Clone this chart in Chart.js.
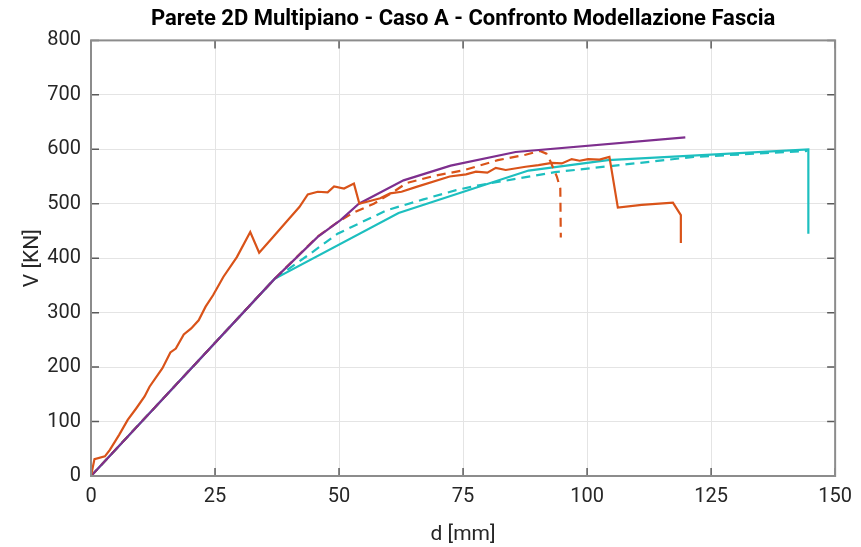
<!DOCTYPE html>
<html>
<head>
<meta charset="utf-8">
<script src="https://cdn.jsdelivr.net/npm/chart.js@4/dist/chart.umd.min.js"></script>
<style>
  html, body { margin: 0; padding: 0; background: #fff; }
  #wrap { width: 861px; height: 547px; }
</style>
</head>
<body>
<div id="wrap"><canvas id="fasciaChart"></canvas></div>
<script>
// spostamento d [mm] e taglio V [kN] per ciascuna modellazione
const dFasciaSolid = [0, 0.7, 2.8, 3.8, 5.7, 7.4, 9.1, 10.8, 11.8, 14.4, 16.0, 17.1, 18.7, 20.2, 21.7, 23.1, 24.6, 26.7, 29.4, 32.1, 33.9, 36.7, 39.7, 42.0, 43.7, 45.7, 47.7, 49.0, 51.0, 53.0, 54.1, 56.6, 58.3, 60.3, 62.6, 65.6, 72.3, 75.6, 77.6, 79.9, 81.6, 83.6, 87.6, 90.2, 92.9, 94.9, 96.9, 98.5, 100.2, 102.5, 104.5, 106.2, 111.0, 117.3, 118.9, 118.9];
const vFasciaSolid = [0, 31, 36, 48, 76, 103, 124, 146, 164, 198, 227, 234, 260, 271, 286, 311, 332, 366, 402, 448, 410, 439, 470, 494, 517, 522, 521, 532, 528, 537, 500, 506, 510, 519, 522, 531, 550, 554, 559, 557, 566, 562, 568, 571, 575, 574, 582, 579, 582, 581, 586, 493, 498, 502, 479, 428];

const dFasciaDash = [0, 37, 45.7, 50.0, 53.0, 57.0, 61.0, 63.6, 69.6, 74.9, 82.0, 87.6, 90.5, 91.8, 92.6, 93.9, 94.6, 94.7];
const vFasciaDash = [0, 362, 440, 468, 484, 500, 522, 538, 552, 561, 580, 590, 597, 592, 578, 550, 528, 438];

const dRigida = [0, 37, 45.7, 50.3, 54.0, 63.0, 72.5, 85.6, 119.8];
const vRigida = [0, 362, 439, 470, 500, 543, 570, 595, 622];

const dTelaio = [0, 37, 62.0, 88.2, 104.2, 144.6, 144.6];
const vTelaio = [0, 362, 483, 561, 580, 600, 445];

const dTelaioDash = [0, 37, 44.3, 49.7, 59.6, 67.0, 73.6, 78.2, 93.5, 121.5, 144.4];
const vTelaioDash = [0, 362, 409, 445, 488, 508, 525, 534, 558, 586, 597];

const xTicks = [0, 25, 50, 75, 100, 125, 150];
const yTicks = [0, 100, 200, 300, 400, 500, 600, 700, 800];

const FONT = 'Roboto, "Open Sans", sans-serif';

function pts(xs, ys) {
  return xs.map((x, i) => ({ x: x, y: ys[i] }));
}

function serie(xs, ys, color, dashed) {
  return {
    data: pts(xs, ys),
    showLine: true,
    borderColor: color,
    backgroundColor: color,
    borderWidth: 2.2,
    borderDash: dashed ? [9, 6] : [],
    pointRadius: 0,
    tension: 0,
    fill: false
  };
}

// cornice degli assi con tacche verso l'interno su tutti e quattro i lati
const boxPlugin = {
  id: 'boxAxes',
  afterDraw(chart) {
    const { ctx, chartArea: a, scales } = chart;
    const len = 8;
    ctx.save();
    ctx.strokeStyle = '#5a5a5a';
    ctx.lineWidth = 1.5;
    xTicks.forEach(t => {
      const px = scales.x.getPixelForValue(t);
      ctx.beginPath();
      ctx.moveTo(px, a.bottom); ctx.lineTo(px, a.bottom - len);
      ctx.moveTo(px, a.top); ctx.lineTo(px, a.top + len);
      ctx.stroke();
    });
    yTicks.forEach(t => {
      const py = scales.y.getPixelForValue(t);
      ctx.beginPath();
      ctx.moveTo(a.left, py); ctx.lineTo(a.left + len, py);
      ctx.moveTo(a.right, py); ctx.lineTo(a.right - len, py);
      ctx.stroke();
    });
    ctx.strokeStyle = '#8c8c8c';
    ctx.lineWidth = 2;
    ctx.strokeRect(a.left, a.top, a.right - a.left, a.bottom - a.top);
    ctx.restore();
  }
};

const ctxFascia = document.getElementById('fasciaChart').getContext('2d');

// il primo dataset viene disegnato sopra gli altri
new Chart(ctxFascia, {
  type: 'scatter',
  data: {
    datasets: [
      serie(dFasciaSolid, vFasciaSolid, '#D95319', false),
      serie(dRigida, vRigida, '#7E2F8E', false),
      serie(dFasciaDash, vFasciaDash, '#D95319', true),
      serie(dTelaioDash, vTelaioDash, '#1DBFBF', true),
      serie(dTelaio, vTelaio, '#1DBFBF', false)
    ]
  },
  options: {
    responsive: true,
    maintainAspectRatio: false,
    animation: false,
    layout: { padding: { top: 0, right: 18, bottom: 0, left: 0 } },
    plugins: {
      legend: { display: false },
      tooltip: { enabled: false },
      title: {
        display: true,
        text: 'Parete 2D Multipiano - Caso A - Confronto Modellazione Fascia',
        fullSize: false,
        color: '#000',
        font: { family: FONT, size: 22, weight: 'bold', lineHeight: 1.2 },
        padding: { top: 6, bottom: 8 }
      }
    },
    scales: {
      x: {
        type: 'linear',
        min: 0,
        max: 150,
        afterBuildTicks: s => { s.ticks = xTicks.map(v => ({ value: v })); },
        afterFit: s => { s.height = 71; },
        grid: { color: '#e4e4e4', lineWidth: 1, drawTicks: false },
        border: { display: false },
        ticks: { color: '#262626', padding: 9, font: { family: FONT, size: 20 } },
        title: {
          display: true,
          text: 'd [mm]',
          color: '#262626',
          font: { family: FONT, size: 21, lineHeight: 1.2 },
          padding: { top: 0, bottom: 0 }
        }
      },
      y: {
        type: 'linear',
        min: 0,
        max: 800,
        afterBuildTicks: s => { s.ticks = yTicks.map(v => ({ value: v })); },
        afterFit: s => { s.width = 91; },
        grid: { color: '#e4e4e4', lineWidth: 1, drawTicks: false },
        border: { display: false },
        ticks: { color: '#262626', padding: 10, font: { family: FONT, size: 20 } },
        title: {
          display: true,
          text: 'V [KN]',
          color: '#262626',
          font: { family: FONT, size: 21, lineHeight: 1.2 },
          padding: { top: 20, bottom: 0 }
        }
      }
    }
  },
  plugins: [boxPlugin]
});
</script>
</body>
</html>
